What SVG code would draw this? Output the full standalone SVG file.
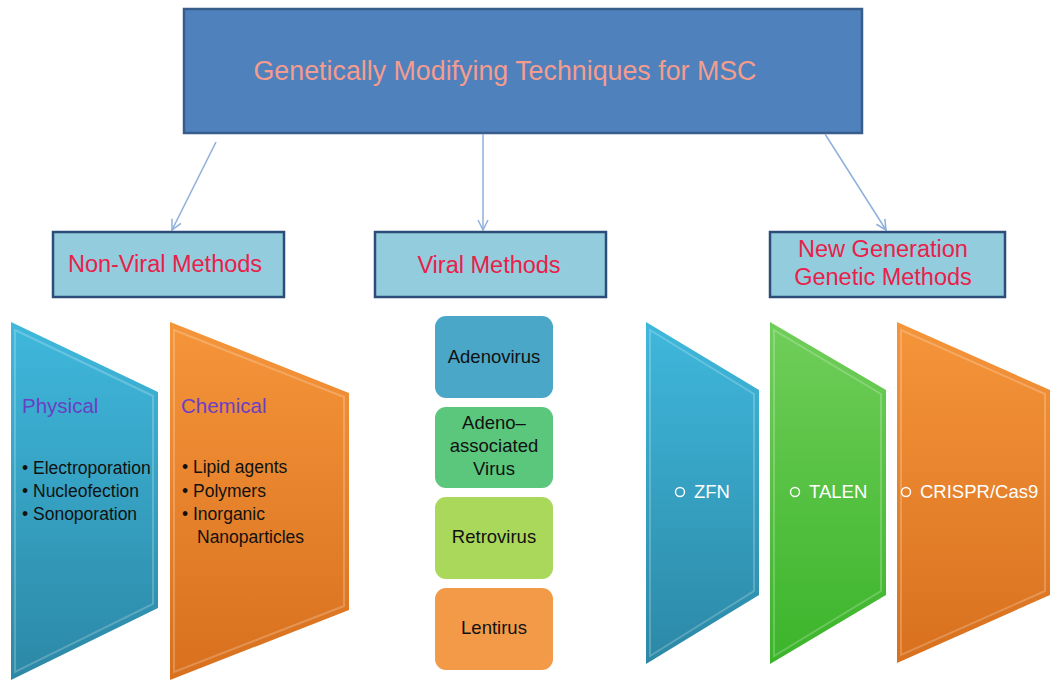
<svg xmlns="http://www.w3.org/2000/svg" width="1051" height="684" viewBox="0 0 1051 684">
<style>
text{font-family:"Liberation Sans",Arial,sans-serif}
.sub{fill:#93cddd;stroke:#2c4d7a;stroke-width:2.5}
.subt{fill:#e8204a;font-size:23.5px;text-anchor:middle}
.conn{stroke:#8fb0dc;stroke-width:1.5;fill:none}
.vir{font-size:18.5px;fill:#111;text-anchor:middle}
.blk{font-size:17.5px;fill:#111}
.head{font-size:20.5px;fill:#6a3fc4}
.wt{font-size:18.5px;fill:#fff}
.bullet{fill:none;stroke:#fff;stroke-width:1.4}
.bev{fill:none;stroke:#fff;stroke-opacity:0.22;stroke-width:2}
</style>
<defs>
<marker id="ah" viewBox="0 0 12 12" refX="11" refY="6" markerWidth="12" markerHeight="12" markerUnits="userSpaceOnUse" orient="auto">
<path d="M1,1 L11,6 L1,11" fill="none" stroke="#8fb0dc" stroke-width="1.5"/>
</marker>
<linearGradient id="gBlue" x1="0" y1="0" x2="0" y2="1"><stop offset="0" stop-color="#3fb8dc"/><stop offset="1" stop-color="#2c88a6"/></linearGradient>
<linearGradient id="gOrange" x1="0" y1="0" x2="0" y2="1"><stop offset="0" stop-color="#f5953a"/><stop offset="1" stop-color="#d8701e"/></linearGradient>
<linearGradient id="gGreen" x1="0" y1="0" x2="0" y2="1"><stop offset="0" stop-color="#70ce5a"/><stop offset="1" stop-color="#3bb42a"/></linearGradient>
</defs>
<rect width="1051" height="684" fill="#fff"/>

<g id="root">
<rect x="184" y="9" width="678" height="124" fill="#4f81bd" stroke="#385d8a" stroke-width="2.5"/>
<text x="505" y="80" font-size="26.8" fill="#f49c8e" text-anchor="middle">Genetically Modifying Techniques for MSC</text>
</g>

<g id="connectors">
<line class="conn" x1="216" y1="142" x2="172" y2="230" marker-end="url(#ah)"/>
<line class="conn" x1="483" y1="134" x2="483" y2="230" marker-end="url(#ah)"/>
<line class="conn" x1="825" y1="134" x2="886" y2="230" marker-end="url(#ah)"/>
</g>

<g id="nonviral">
<rect class="sub" x="53" y="232" width="231" height="65"/>
<text class="subt" x="165" y="272">Non-Viral Methods</text>
</g>
<g id="viral">
<rect class="sub" x="375" y="232" width="231" height="65"/>
<text class="subt" x="489" y="273">Viral Methods</text>
</g>
<g id="newgen">
<rect class="sub" x="770" y="232" width="235" height="65"/>
<text class="subt" x="883" y="257">New Generation</text>
<text class="subt" x="883" y="285">Genetic Methods</text>
</g>

<g id="physical">
<polygon points="11,322 158,392 158,608 11,680" fill="url(#gBlue)"/>
<polygon class="bev" points="15,330 153,396 153,604 15,672"/>
<text class="head" x="22" y="413">Physical</text>
<text class="blk" x="22" y="474">• Electroporation</text>
<text class="blk" x="22" y="497">• Nucleofection</text>
<text class="blk" x="22" y="520">• Sonoporation</text>
</g>

<g id="chemical">
<polygon points="170,322 349,393 349,610 170,680" fill="url(#gOrange)"/>
<polygon class="bev" points="174,330 344,397 344,606 174,672"/>
<text class="head" x="181" y="413">Chemical</text>
<text class="blk" x="182" y="473">• Lipid agents</text>
<text class="blk" x="182" y="497">• Polymers</text>
<text class="blk" x="182" y="520">• Inorganic</text>
<text class="blk" x="197" y="543">Nanoparticles</text>
</g>

<g id="adenovirus">
<rect x="435" y="316" width="118" height="82" rx="11" fill="#4aa7c7"/>
<text class="vir" x="494" y="363">Adenovirus</text>
</g>
<g id="aav">
<rect x="435" y="407" width="118" height="81" rx="11" fill="#5bc77d"/>
<text class="vir" x="494" y="429">Adeno–</text>
<text class="vir" x="494" y="452">associated</text>
<text class="vir" x="494" y="475">Virus</text>
</g>
<g id="retrovirus">
<rect x="435" y="497" width="118" height="82" rx="11" fill="#a9d85b"/>
<text class="vir" x="494" y="543">Retrovirus</text>
</g>
<g id="lentirus">
<rect x="435" y="588" width="118" height="82" rx="11" fill="#f39a48"/>
<text class="vir" x="494" y="634">Lentirus</text>
</g>

<g id="zfn">
<polygon points="646,322 759,390 759,595 646,664" fill="url(#gBlue)"/>
<polygon class="bev" points="650,330 754,394 754,591 650,656"/>
<circle class="bullet" cx="680" cy="492" r="4.5"/>
<text class="wt" x="694" y="498">ZFN</text>
</g>
<g id="talen">
<polygon points="770,322 886,390 886,595 770,664" fill="url(#gGreen)"/>
<polygon class="bev" points="774,330 881,394 881,591 774,656"/>
<circle class="bullet" cx="795" cy="492" r="4.5"/>
<text class="wt" x="809" y="498">TALEN</text>
</g>
<g id="crispr">
<polygon points="897,322 1050,390 1050,595 897,663" fill="url(#gOrange)"/>
<polygon class="bev" points="901,330 1045,394 1045,591 901,655"/>
<circle class="bullet" cx="906" cy="492" r="4.5"/>
<text class="wt" x="920" y="498">CRISPR/Cas9</text>
</g>
</svg>
